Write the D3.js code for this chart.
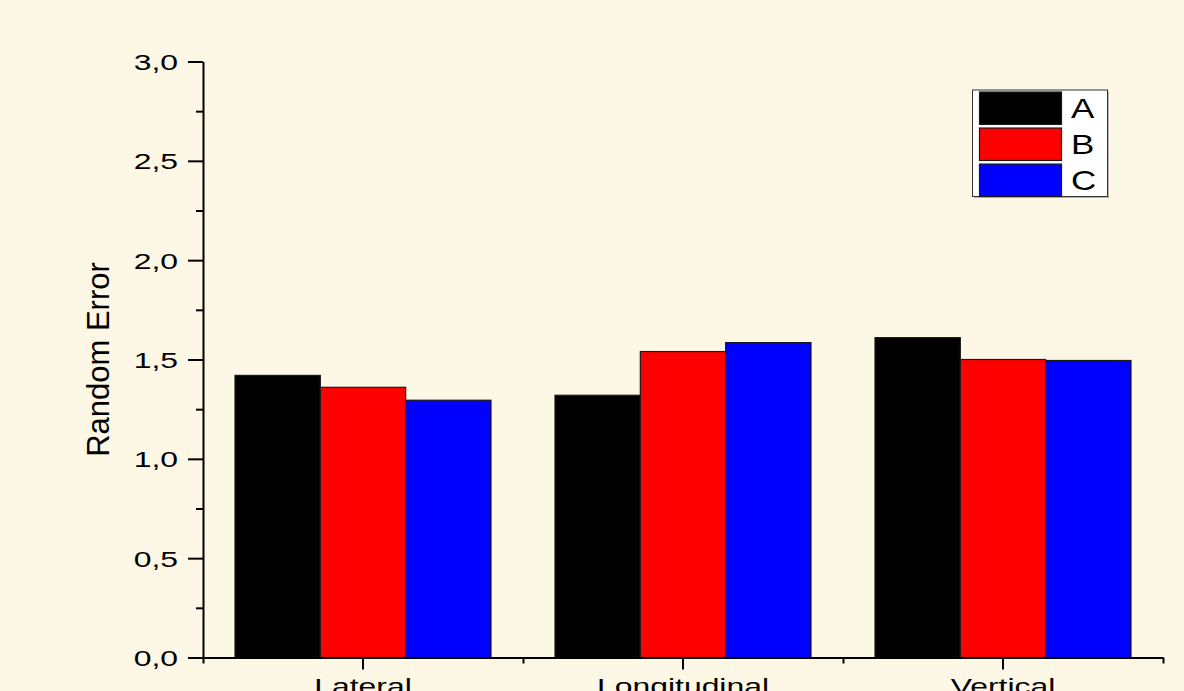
<!DOCTYPE html>
<html>
<head>
<meta charset="utf-8">
<script src="https://cdn.jsdelivr.net/npm/d3@7"></script>
<style>
  html, body { margin: 0; padding: 0; background: #fdf7e6; }
  svg { display: block; }
  text { font-family: "Liberation Sans", Arial, sans-serif; fill: #000; }
</style>
</head>
<body>
<svg id="chart" width="1184" height="691"></svg>
<script>
// ---- data ----
const categories = ["Lateral", "Longitudinal", "Vertical"];
const seriesNames = ["A", "B", "C"];
const seriesColors = ["#000000", "#ff0000", "#0000ff"];
const valuesA = [1.42, 1.32, 1.61];
const valuesB = [1.36, 1.54, 1.50];
const valuesC = [1.295, 1.585, 1.495];
const yMajorTicks = [0, 0.5, 1.0, 1.5, 2.0, 2.5, 3.0];
const yMinorTicks = [0.25, 0.75, 1.25, 1.75, 2.25, 2.75];
const yTitle = "Random Error";

const seriesValues = [valuesA, valuesB, valuesC];
const rows = categories.map((c, i) => ({
  category: c,
  values: seriesNames.map((s, j) => ({ series: s, value: seriesValues[j][i], color: seriesColors[j] }))
}));

// ---- layout ----
const svg = d3.select("#chart");
const W = 1184, H = 691;
svg.append("rect").attr("width", W).attr("height", H).attr("fill", "#fdf7e6");

const x0 = 203, x1 = 1163, yTop = 61.5, yBot = 657.5;
const x = d3.scaleBand().domain(categories).range([x0, x1]).paddingInner(0.2).paddingOuter(0.1);
const xs = d3.scaleBand().domain(seriesNames).range([0, x.bandwidth()]).padding(0);
const y = d3.scaleLinear().domain([0, 3]).range([yBot, yTop]);
const fmt = d => d3.format(".1f")(d).replace(".", ",");
const SX = 1.45;

// bars
const g = svg.append("g");
g.selectAll("g.cat").data(rows).join("g")
  .attr("class", "cat")
  .attr("transform", d => `translate(${x(d.category)},0)`)
  .selectAll("rect").data(d => d.values).join("rect")
  .attr("x", d => xs(d.series))
  .attr("width", xs.bandwidth())
  .attr("y", d => y(d.value))
  .attr("height", d => y(0) - y(d.value))
  .attr("fill", d => d.color)
  .attr("stroke", "#1a1a1a")
  .attr("stroke-width", 1.2);

// y axis minor
const yMinor = svg.append("g").attr("transform", `translate(${x0},0)`)
  .call(d3.axisLeft(y).tickValues(yMinorTicks).tickSize(7).tickSizeOuter(0).tickFormat(""));
yMinor.select(".domain").remove();

// y axis major
const yAx = svg.append("g").attr("transform", `translate(${x0},0)`)
  .call(d3.axisLeft(y).tickValues(yMajorTicks).tickSize(15).tickSizeOuter(0).tickPadding(10).tickFormat(fmt));
yAx.selectAll("text")
  .attr("x", null).attr("dy", null)
  .attr("transform", `translate(-25,8) scale(${SX},1)`)
  .attr("text-anchor", "end")
  .style("font-size", "22px")
  .style("font-family", "'Liberation Sans', Arial, sans-serif");

// x axis minor ticks at band boundaries
const bounds = categories.map(c => x(c) - x.step() * x.paddingOuter()).concat([x1]);
const xScaleLin = d3.scaleLinear().domain([0, categories.length]).range([x0, x1]);
const xMinor = svg.append("g").attr("transform", `translate(0,${yBot})`)
  .call(d3.axisBottom(xScaleLin).tickValues(d3.range(0, categories.length + 1)).tickSize(6).tickSizeOuter(0).tickFormat(""));
xMinor.select(".domain").remove();

// x axis major
const xAx = svg.append("g").attr("transform", `translate(0,${yBot})`)
  .call(d3.axisBottom(x).tickSize(12).tickSizeOuter(0).tickPadding(0));
xAx.selectAll("text")
  .attr("y", null).attr("dy", null)
  .attr("transform", `translate(0,36.5) scale(${SX},1)`)
  .attr("text-anchor", "middle")
  .style("font-size", "22px")
  .style("font-family", "'Liberation Sans', Arial, sans-serif");

svg.selectAll(".domain, .tick line").attr("stroke", "#000").attr("stroke-width", 2);

// y title
svg.append("text")
  .attr("transform", `translate(108.5,${(yTop + yBot) / 2 + 0}) rotate(-90)`)
  .attr("text-anchor", "middle")
  .style("font-size", "31px")
  .text(yTitle);

// legend
const legX = 972.5, legY = 90, legW = 135, legH = 106.5;
const leg = svg.append("g");
leg.append("rect")
  .attr("x", legX + 1.5).attr("y", legY + 1.5).attr("width", legW).attr("height", legH)
  .attr("fill", "#b9b5aa");
leg.append("rect")
  .attr("x", legX).attr("y", legY).attr("width", legW).attr("height", legH)
  .attr("fill", "#ffffff").attr("stroke", "#333").attr("stroke-width", 1);
const ly = d3.scaleBand().domain(seriesNames).range([legY + 2, legY + 106.5]).paddingInner(0.1);
const items = leg.selectAll("g.item").data(seriesNames.map((s, i) => ({ s, c: seriesColors[i] }))).join("g");
items.append("rect")
  .attr("x", 979.5).attr("width", 82)
  .attr("y", d => ly(d.s)).attr("height", ly.bandwidth())
  .attr("fill", d => d.c).attr("stroke", "#1a1a1a").attr("stroke-width", 1.2);
items.append("text")
  .attr("transform", d => `translate(1071,${ly(d.s) + ly.bandwidth() / 2 + 10}) scale(1.25,1)`)
  .style("font-size", "28px")
  .text(d => d.s);
</script>
</body>
</html>
